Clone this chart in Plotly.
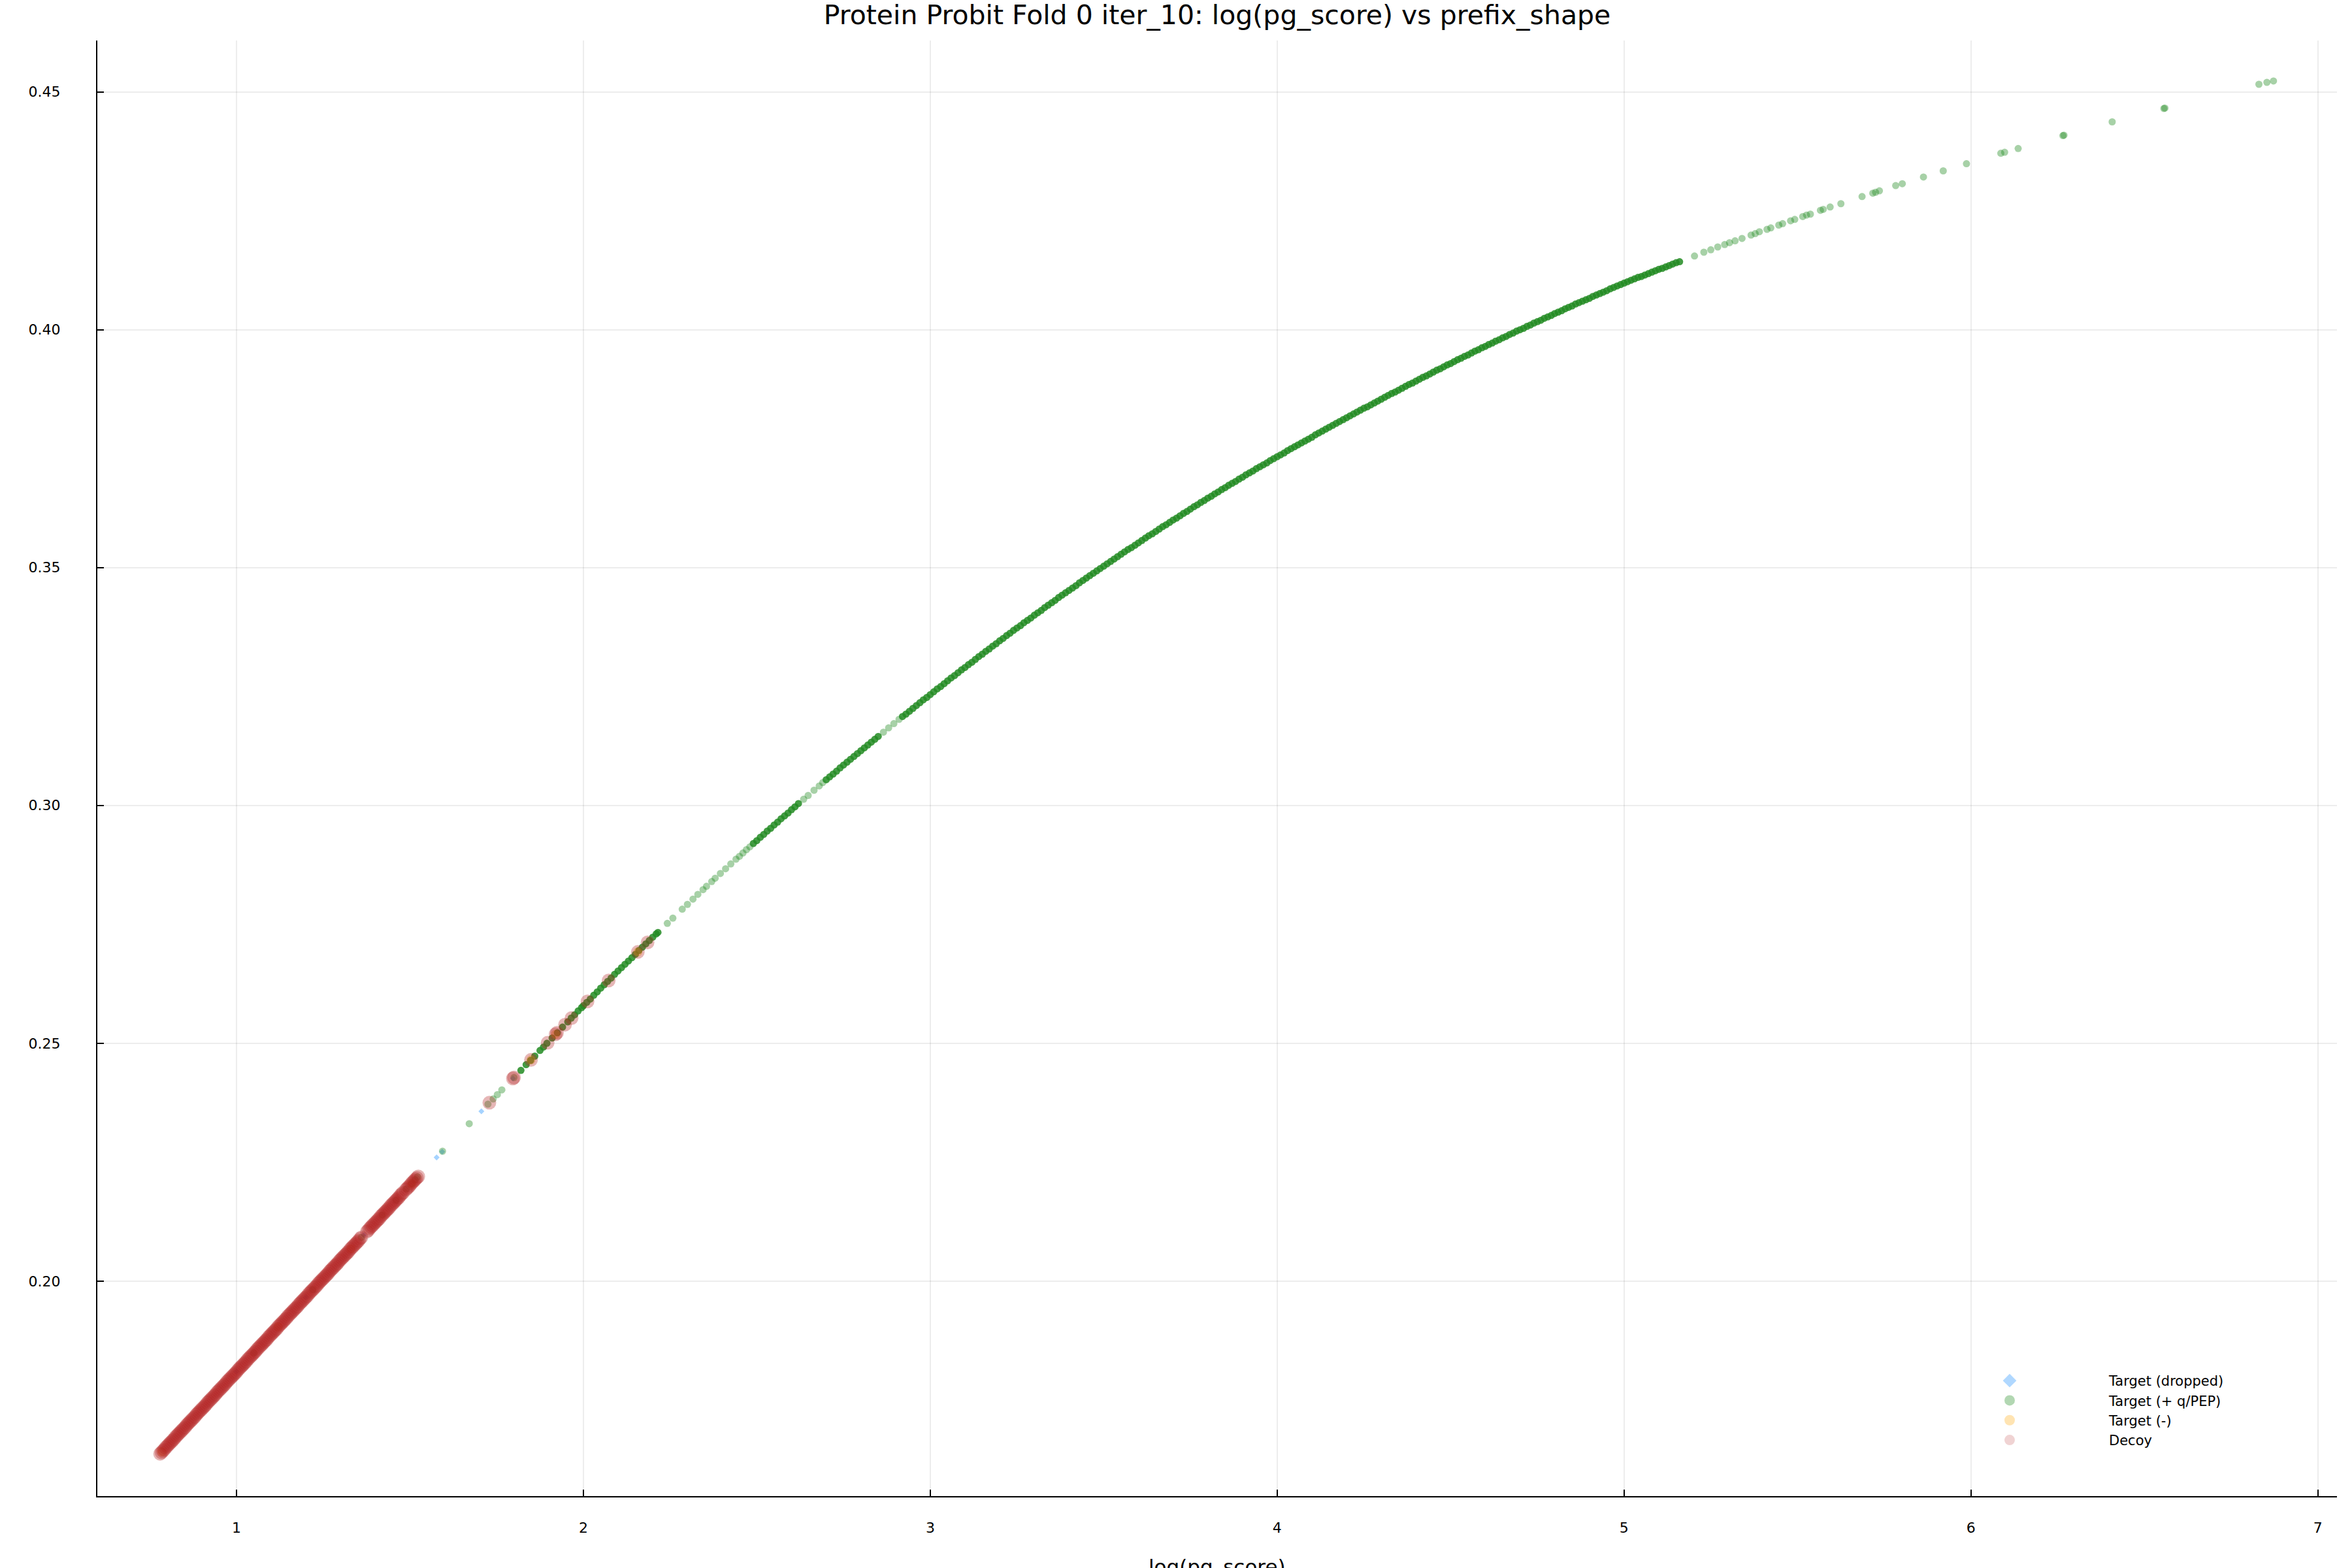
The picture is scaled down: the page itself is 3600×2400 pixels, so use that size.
import plotly.graph_objects as go

# ---------------- data ----------------
# Target (dropped)
dropped_x = [1.000, 1.200, 1.367, 1.577, 1.593, 1.706, 1.797]
dropped_y = [0.1810, 0.1966, 0.2097, 0.2260, 0.2272, 0.2357, 0.2426]

# Target (+ q/PEP) : densely packed stretches of the curve
qpep_dense_x = [
    1.820, 1.835, 1.848, 1.860, 1.875, 1.885, 1.895, 1.910, 1.925, 1.940, 1.955, 1.965, 1.975, 1.985, 1.995,
    2.00, 2.01, 2.02, 2.03, 2.04, 2.05, 2.06, 2.07, 2.08, 2.09, 2.10, 2.11, 2.12, 2.13, 2.14, 2.15, 2.16, 2.17, 2.18, 2.19, 2.20, 2.21, 2.215,
    2.49, 2.50, 2.51, 2.52, 2.53, 2.54, 2.55, 2.56, 2.57, 2.58, 2.59, 2.60, 2.61, 2.62,
    2.70, 2.71, 2.72, 2.73, 2.74, 2.75, 2.76, 2.77, 2.78, 2.79, 2.80, 2.81, 2.82, 2.83, 2.84, 2.85,
    2.92, 2.93, 2.94, 2.95, 2.96, 2.97, 2.98, 2.99,
    3.00, 3.01, 3.02, 3.03, 3.04, 3.05, 3.06, 3.07, 3.08, 3.09,
    3.10, 3.11, 3.12, 3.13, 3.14, 3.15, 3.16, 3.17, 3.18, 3.19,
    3.20, 3.21, 3.22, 3.23, 3.24, 3.25, 3.26, 3.27, 3.28, 3.29,
    3.30, 3.31, 3.32, 3.33, 3.34, 3.35, 3.36, 3.37, 3.38, 3.39,
    3.40, 3.41, 3.42, 3.43, 3.44, 3.45, 3.46, 3.47, 3.48, 3.49,
    3.50, 3.51, 3.52, 3.53, 3.54, 3.55, 3.56, 3.57, 3.58, 3.59,
    3.60, 3.61, 3.62, 3.63, 3.64, 3.65, 3.66, 3.67, 3.68, 3.69,
    3.70, 3.71, 3.72, 3.73, 3.74, 3.75, 3.76, 3.77, 3.78, 3.79,
    3.80, 3.81, 3.82, 3.83, 3.84, 3.85, 3.86, 3.87, 3.88, 3.89,
    3.90, 3.91, 3.92, 3.93, 3.94, 3.95, 3.96, 3.97, 3.98, 3.99,
    4.00, 4.01, 4.02, 4.03, 4.04, 4.05, 4.06, 4.07, 4.08, 4.09,
    4.10, 4.11, 4.12, 4.13, 4.14, 4.15, 4.16, 4.17, 4.18, 4.19,
    4.20, 4.21, 4.22, 4.23, 4.24, 4.25, 4.26, 4.27, 4.28, 4.29,
    4.30, 4.31, 4.32, 4.33, 4.34, 4.35, 4.36, 4.37, 4.38, 4.39,
    4.40, 4.41, 4.42, 4.43, 4.44, 4.45, 4.46, 4.47, 4.48, 4.49,
    4.50, 4.51, 4.52, 4.53, 4.54, 4.55, 4.56, 4.57, 4.58, 4.59,
    4.60, 4.61, 4.62, 4.63, 4.64, 4.65, 4.66, 4.67, 4.68, 4.69,
    4.70, 4.71, 4.72, 4.73, 4.74, 4.75, 4.76, 4.77, 4.78, 4.79,
    4.80, 4.81, 4.82, 4.83, 4.84, 4.85, 4.86, 4.87, 4.88, 4.89,
    4.90, 4.91, 4.92, 4.93, 4.94, 4.95, 4.96, 4.97, 4.98, 4.99,
    5.00, 5.01, 5.02, 5.03, 5.04, 5.05, 5.06, 5.07, 5.08, 5.09,
    5.10, 5.11, 5.12, 5.13, 5.14, 5.15, 5.16,
]
qpep_dense_y = [
    0.2443, 0.2455, 0.2464, 0.2473, 0.2485, 0.2492, 0.2500, 0.2511, 0.2522, 0.2534, 0.2545, 0.2553, 0.2560, 0.2568, 0.2575,
    0.2579, 0.2586, 0.2593, 0.2601, 0.2608, 0.2616, 0.2623, 0.2630, 0.2637, 0.2645, 0.2652, 0.2659, 0.2666, 0.2673, 0.2680, 0.2687, 0.2695, 0.2702, 0.2709, 0.2716, 0.2723, 0.2730, 0.2733,
    0.2920, 0.2926, 0.2933, 0.2939, 0.2946, 0.2952, 0.2959, 0.2965, 0.2972, 0.2978, 0.2984, 0.2991, 0.2997, 0.3004,
    0.3054, 0.3060, 0.3066, 0.3072, 0.3079, 0.3085, 0.3091, 0.3097, 0.3103, 0.3109, 0.3115, 0.3121, 0.3127, 0.3133, 0.3139, 0.3145,
    0.3187, 0.3192, 0.3198, 0.3204, 0.3210, 0.3216, 0.3222, 0.3227,
    0.3233, 0.3239, 0.3245, 0.3250, 0.3256, 0.3262, 0.3268, 0.3273, 0.3279, 0.3285,
    0.3290, 0.3296, 0.3301, 0.3307, 0.3313, 0.3318, 0.3324, 0.3329, 0.3335, 0.3340,
    0.3346, 0.3351, 0.3357, 0.3362, 0.3368, 0.3373, 0.3378, 0.3384, 0.3389, 0.3394,
    0.3400, 0.3405, 0.3410, 0.3416, 0.3421, 0.3426, 0.3431, 0.3437, 0.3442, 0.3447,
    0.3452, 0.3457, 0.3462, 0.3468, 0.3473, 0.3478, 0.3483, 0.3488, 0.3493, 0.3498,
    0.3503, 0.3508, 0.3513, 0.3518, 0.3523, 0.3528, 0.3533, 0.3538, 0.3542, 0.3547,
    0.3552, 0.3557, 0.3562, 0.3567, 0.3571, 0.3576, 0.3581, 0.3586, 0.3590, 0.3595,
    0.3600, 0.3604, 0.3609, 0.3614, 0.3618, 0.3623, 0.3628, 0.3632, 0.3637, 0.3641,
    0.3646, 0.3650, 0.3655, 0.3659, 0.3664, 0.3668, 0.3673, 0.3677, 0.3681, 0.3686,
    0.3690, 0.3695, 0.3699, 0.3703, 0.3708, 0.3712, 0.3716, 0.3720, 0.3725, 0.3729,
    0.3733, 0.3737, 0.3741, 0.3746, 0.3750, 0.3754, 0.3758, 0.3762, 0.3766, 0.3770,
    0.3774, 0.3779, 0.3783, 0.3787, 0.3791, 0.3795, 0.3799, 0.3803, 0.3807, 0.3811,
    0.3815, 0.3819, 0.3823, 0.3827, 0.3831, 0.3835, 0.3838, 0.3842, 0.3846, 0.3850,
    0.3854, 0.3858, 0.3862, 0.3866, 0.3869, 0.3873, 0.3877, 0.3881, 0.3885, 0.3888,
    0.3892, 0.3896, 0.3900, 0.3903, 0.3907, 0.3911, 0.3915, 0.3918, 0.3922, 0.3926,
    0.3929, 0.3933, 0.3937, 0.3940, 0.3944, 0.3947, 0.3951, 0.3955, 0.3958, 0.3962,
    0.3965, 0.3969, 0.3972, 0.3976, 0.3979, 0.3983, 0.3986, 0.3990, 0.3993, 0.3997,
    0.4000, 0.4003, 0.4007, 0.4010, 0.4014, 0.4017, 0.4020, 0.4024, 0.4027, 0.4030,
    0.4034, 0.4037, 0.4040, 0.4044, 0.4047, 0.4050, 0.4054, 0.4057, 0.4060, 0.4063,
    0.4066, 0.4070, 0.4073, 0.4076, 0.4079, 0.4082, 0.4086, 0.4089, 0.4092, 0.4095,
    0.4098, 0.4101, 0.4104, 0.4107, 0.4110, 0.4112, 0.4115, 0.4118, 0.4121, 0.4124,
    0.4127, 0.4129, 0.4132, 0.4135, 0.4138, 0.4141, 0.4143,
]

# Target (+ q/PEP) : isolated / thinly spread points
qpep_sparse_x = [
    1.050, 1.220, 1.360, 1.420, 1.460, 1.490, 1.505, 1.515, 1.522,
    1.594, 1.671, 1.725, 1.740, 1.752, 1.765, 1.800,
    2.242, 2.258, 2.285, 2.300, 2.316, 2.330,
    2.345, 2.355, 2.370, 2.380, 2.395, 2.410, 2.425, 2.440, 2.450, 2.460, 2.470, 2.480,
    2.635, 2.648, 2.665, 2.680, 2.690,
    2.865, 2.880, 2.895, 2.910,
    5.203, 5.230, 5.250, 5.270, 5.290, 5.304, 5.320, 5.340, 5.366, 5.378, 5.390, 5.412,
    5.423, 5.446, 5.457, 5.480, 5.492, 5.515, 5.526, 5.537, 5.566, 5.574, 5.594, 5.625,
    5.686, 5.717, 5.725, 5.736, 5.783, 5.802, 5.863, 5.920, 5.987,
    6.086, 6.097, 6.136, 6.265, 6.268, 6.407, 6.556, 6.559, 6.830, 6.853, 6.872,
]
qpep_sparse_y = [
    0.1849, 0.1982, 0.2092, 0.2139, 0.2170, 0.2194, 0.2205, 0.2213, 0.2219,
    0.2273, 0.2331, 0.2372, 0.2383, 0.2392, 0.2402, 0.2428,
    0.2752, 0.2763, 0.2782, 0.2792, 0.2803, 0.2813,
    0.2823, 0.2830, 0.2840, 0.2847, 0.2857, 0.2867, 0.2877, 0.2887, 0.2893, 0.2900, 0.2907, 0.2913,
    0.3013, 0.3021, 0.3032, 0.3041, 0.3048,
    0.3154, 0.3163, 0.3172, 0.3181,
    0.4155, 0.4163, 0.4168, 0.4174, 0.4179, 0.4183, 0.4187, 0.4192, 0.4199, 0.4202, 0.4206, 0.4211,
    0.4214, 0.4220, 0.4223, 0.4229, 0.4232, 0.4238, 0.4241, 0.4243, 0.4251, 0.4253, 0.4258, 0.4265,
    0.4280, 0.4287, 0.4289, 0.4292, 0.4303, 0.4307, 0.4321, 0.4334, 0.4349,
    0.4371, 0.4373, 0.4381, 0.4408, 0.4409, 0.4437, 0.4465, 0.4466, 0.4516, 0.4520, 0.4523,
]

# Target (-)
neg_x = [0.785, 1.120, 1.330, 1.505, 1.849, 1.920, 2.157]
neg_y = [0.1641, 0.1904, 0.2068, 0.2205, 0.2465, 0.2519, 0.2692]

# Decoy
decoy_x = [
    0.780, 0.784, 0.788, 0.792, 0.796, 0.800, 0.804, 0.808, 0.812, 0.816,
    0.820, 0.824, 0.828, 0.832, 0.836, 0.840, 0.844, 0.848, 0.852, 0.856,
    0.860, 0.864, 0.868, 0.872, 0.876, 0.880, 0.884, 0.888, 0.892, 0.896,
    0.900, 0.904, 0.908, 0.912, 0.916, 0.920, 0.924, 0.928, 0.932, 0.936,
    0.940, 0.944, 0.948, 0.952, 0.956, 0.960, 0.964, 0.968, 0.972, 0.976,
    0.980, 0.984, 0.988, 0.992, 0.996, 1.000, 1.004, 1.008, 1.012, 1.016,
    1.020, 1.024, 1.028, 1.032, 1.036, 1.040, 1.044, 1.048, 1.052, 1.056,
    1.060, 1.064, 1.068, 1.072, 1.076, 1.080, 1.084, 1.088, 1.092, 1.096,
    1.100, 1.104, 1.108, 1.112, 1.116, 1.120, 1.124, 1.128, 1.132, 1.136,
    1.140, 1.144, 1.148, 1.152, 1.156, 1.160, 1.164, 1.168, 1.172, 1.176,
    1.180, 1.184, 1.188, 1.192, 1.196, 1.200, 1.204, 1.208, 1.212, 1.216,
    1.220, 1.224, 1.228, 1.232, 1.236, 1.240, 1.244, 1.248, 1.252, 1.256,
    1.260, 1.264, 1.268, 1.272, 1.276, 1.280, 1.284, 1.288, 1.292, 1.296,
    1.300, 1.304, 1.308, 1.312, 1.316, 1.320, 1.324, 1.328, 1.332, 1.336,
    1.340, 1.344, 1.348, 1.352, 1.356, 1.360, 1.376,
    1.380, 1.384, 1.388, 1.392, 1.396, 1.400, 1.404, 1.408, 1.412, 1.416,
    1.420, 1.424, 1.428, 1.432, 1.436, 1.440, 1.444, 1.448, 1.452, 1.456,
    1.460, 1.464, 1.468, 1.472, 1.476, 1.480, 1.488, 1.492, 1.496,
    1.500, 1.504, 1.508, 1.512, 1.516, 1.520, 1.524,
    1.729, 1.797, 1.800, 1.849, 1.897, 1.920, 1.924, 1.947, 1.966, 2.012, 2.073, 2.157, 2.185,
]
decoy_y = [
    0.1637, 0.1640, 0.1643, 0.1646, 0.1650, 0.1653, 0.1656, 0.1659, 0.1662, 0.1665,
    0.1668, 0.1672, 0.1675, 0.1678, 0.1681, 0.1684, 0.1687, 0.1690, 0.1693, 0.1697,
    0.1700, 0.1703, 0.1706, 0.1709, 0.1712, 0.1715, 0.1719, 0.1722, 0.1725, 0.1728,
    0.1731, 0.1734, 0.1737, 0.1740, 0.1744, 0.1747, 0.1750, 0.1753, 0.1756, 0.1759,
    0.1762, 0.1766, 0.1769, 0.1772, 0.1775, 0.1778, 0.1781, 0.1784, 0.1788, 0.1791,
    0.1794, 0.1797, 0.1800, 0.1803, 0.1806, 0.1809, 0.1813, 0.1816, 0.1819, 0.1822,
    0.1825, 0.1828, 0.1831, 0.1835, 0.1838, 0.1841, 0.1844, 0.1847, 0.1850, 0.1853,
    0.1857, 0.1860, 0.1863, 0.1866, 0.1869, 0.1872, 0.1875, 0.1878, 0.1882, 0.1885,
    0.1888, 0.1891, 0.1894, 0.1897, 0.1900, 0.1904, 0.1907, 0.1910, 0.1913, 0.1916,
    0.1919, 0.1922, 0.1926, 0.1929, 0.1932, 0.1935, 0.1938, 0.1941, 0.1944, 0.1947,
    0.1951, 0.1954, 0.1957, 0.1960, 0.1963, 0.1966, 0.1969, 0.1973, 0.1976, 0.1979,
    0.1982, 0.1985, 0.1988, 0.1991, 0.1995, 0.1998, 0.2001, 0.2004, 0.2007, 0.2010,
    0.2013, 0.2016, 0.2020, 0.2023, 0.2026, 0.2029, 0.2032, 0.2035, 0.2038, 0.2042,
    0.2045, 0.2048, 0.2051, 0.2054, 0.2057, 0.2060, 0.2063, 0.2067, 0.2070, 0.2073,
    0.2076, 0.2079, 0.2082, 0.2085, 0.2089, 0.2092, 0.2104,
    0.2107, 0.2111, 0.2114, 0.2117, 0.2120, 0.2123, 0.2126, 0.2129, 0.2132, 0.2136,
    0.2139, 0.2142, 0.2145, 0.2148, 0.2151, 0.2154, 0.2158, 0.2161, 0.2164, 0.2167,
    0.2170, 0.2173, 0.2176, 0.2180, 0.2183, 0.2186, 0.2192, 0.2195, 0.2198,
    0.2201, 0.2205, 0.2208, 0.2211, 0.2214, 0.2217, 0.2220,
    0.2375, 0.2426, 0.2428, 0.2465, 0.2501, 0.2519, 0.2522, 0.2539, 0.2553, 0.2588, 0.2632, 0.2692, 0.2712,
]

x_ticks = [1, 2, 3, 4, 5, 6, 7]
y_ticks = [0.20, 0.25, 0.30, 0.35, 0.40, 0.45]
series_names = ["Target (dropped)", "Target (+ q/PEP)", "Target (-)", "Decoy"]
title_text = "Protein Probit Fold 0 iter_10: log(pg_score) vs prefix_shape"
x_label = "log(pg_score)"

for a, b in [(dropped_x, dropped_y), (qpep_dense_x, qpep_dense_y),
             (qpep_sparse_x, qpep_sparse_y), (neg_x, neg_y), (decoy_x, decoy_y)]:
    assert len(a) == len(b), (len(a), len(b))

# ---------------- styling ----------------
BLUE = "rgb(30,144,255)"
GREEN = "rgb(34,139,34)"
ORANGE = "rgb(255,165,0)"
RED = "rgb(178,34,34)"
FONT = "DejaVu Sans"

fig = go.Figure()

def pts(x, y, color, size, opacity, symbol="circle"):
    return go.Scatter(x=x, y=y, mode="markers", showlegend=False, hoverinfo="skip",
                      marker=dict(color=color, size=size, opacity=opacity, symbol=symbol,
                                  line=dict(width=0)))

fig.add_trace(pts(dropped_x, dropped_y, BLUE, 7, 0.4, "diamond"))
fig.add_trace(pts(qpep_sparse_x, qpep_sparse_y, GREEN, 11, 0.4))
fig.add_trace(pts(qpep_dense_x, qpep_dense_y, GREEN, 11, 0.85))
fig.add_trace(pts(neg_x, neg_y, ORANGE, 14, 0.35))
fig.add_trace(pts(decoy_x, decoy_y, RED, 21, 0.33))

# legend entries
legend_styles = [(BLUE, "diamond", 0.35), (GREEN, "circle", 0.35),
                 (ORANGE, "circle", 0.3), (RED, "circle", 0.2)]
for name, (col, sym, op) in zip(series_names, legend_styles):
    fig.add_trace(go.Scatter(x=[None], y=[None], mode="markers", name=name,
                             marker=dict(color=col, symbol=sym, size=16, opacity=op,
                                         line=dict(width=0))))

W, H = 3600, 2400
L, R, T, B = 149, 23, 62, 110
plot_h = H - T - B

fig.update_layout(
    width=W, height=H,
    paper_bgcolor="white", plot_bgcolor="white",
    margin=dict(l=L, r=R, t=T, b=B, pad=0),
    font=dict(family=FONT, color="black"),
    title=dict(text=title_text, x=0.5, xref="paper", xanchor="center",
               y=1 - 23 / H, yref="container", yanchor="middle",
               font=dict(size=41, family=FONT, color="black")),
    legend=dict(x=(2924 - L) / (W - L - R), y=(H - B - 2093) / plot_h,
                xanchor="left", yanchor="top", bgcolor="rgba(0,0,0,0)",
                borderwidth=0, itemwidth=294, font=dict(size=21, family=FONT),
                traceorder="normal"),
    annotations=[dict(text=x_label, x=0.5, xref="paper", xanchor="center",
                      y=(H - B - 2378) / plot_h, yref="paper", yanchor="top",
                      showarrow=False, font=dict(size=31, family=FONT))],
)

axis_common = dict(showline=True, linecolor="black", linewidth=2, mirror=False,
                   ticks="inside", ticklen=10, tickwidth=1.5, tickcolor="black",
                   showgrid=True, gridcolor="rgba(0,0,0,0.07)", gridwidth=1.5,
                   zeroline=False, tickfont=dict(size=22, family=FONT, color="black"))

fig.update_xaxes(range=[0.599, 7.055], tickvals=x_ticks, ticklabelstandoff=28, **axis_common)
fig.update_yaxes(range=[0.1548, 0.4608], tickvals=y_ticks, tickformat=".2f",
                 ticklabelstandoff=50, **axis_common)

fig.write_html("out.html", config={"displayModeBar": False},
               post_script="document.body.style.margin='0';document.body.style.padding='0';")
